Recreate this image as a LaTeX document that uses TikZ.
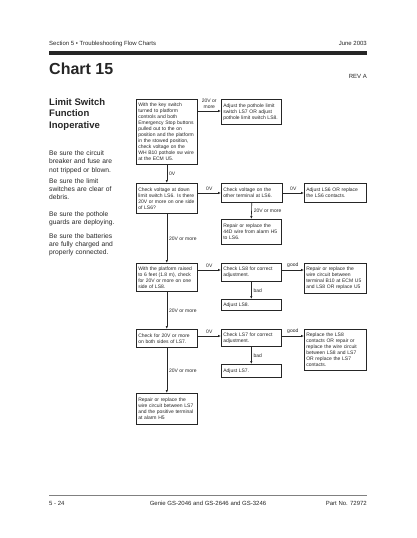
\documentclass[tikz,border=0pt]{standalone}
\usepackage{fontspec}
\setmainfont{Liberation Sans}
\usetikzlibrary{arrows.meta}
\definecolor{ink}{gray}{0.15}
\tikzset{
  fbox/.style={draw=ink, line width=0.6pt, fill=white, align=left, anchor=north west,
    font=\fontsize{5}{6}\selectfont, text=ink, inner xsep=2pt, inner ysep=2pt},
  arr/.style={draw=ink, line width=0.6pt, -{Latex[length=3pt,width=2.4pt]}},
  lbl/.style={font=\fontsize{5}{6}\selectfont, text=ink, inner sep=1pt},
  side/.style={anchor=north west, inner sep=0pt, align=left, text width=70pt,
    font=\fontsize{6.7}{8.4}\selectfont, text=ink},
}
\begin{document}
\begin{tikzpicture}[x=1pt, y=-1pt]
\useasboundingbox[fill=white] (0,0) rectangle (416,538);

% header
\node[anchor=base west, inner sep=0pt, font=\fontsize{6}{7}\selectfont, text=ink] (hdl) at (49,45) {Section 5 • Troubleshooting Flow Charts};
\node[anchor=base east, inner sep=0pt, font=\fontsize{6}{7}\selectfont, text=ink] (hdr) at (367,45) {June 2003};
\fill[ink] (49,51) rectangle (367,55);
\node[anchor=base west, inner sep=0pt, font=\fontsize{16}{18}\bfseries\selectfont, text=ink] (chart) at (49,74.5) {Chart 15};
\node[anchor=base east, inner sep=0pt, font=\fontsize{6}{7}\selectfont, text=ink] (rev) at (367,78.5) {REV A};

% left column
\node[anchor=north west, inner sep=0pt, align=left, font=\fontsize{9.5}{11.6}\bfseries\selectfont, text=ink] (title) at (49,98) {Limit Switch\\Function\\Inoperative};
\node[side] (p1) at (49,150.5) {Be sure the circuit\\breaker and fuse are\\not tripped or blown.};
\node[side] (p2) at (49,178) {Be sure the limit\\switches are clear of\\debris.};
\node[side] (p3) at (49,211) {Be sure the pothole\\guards are deploying.};
\node[side] (p4) at (49,233) {Be sure the batteries\\are fully charged and\\properly connected.};

% boxes
\node[fbox, text width=57pt, minimum height=65pt] (A) at (136,99) {With the key switch\\turned to platform\\controls and both\\Emergency Stop buttons\\pulled out to the on\\position and the platform\\in the stowed position,\\check voltage on the\\WH B10 pothole sw wire\\at the ECM U5.};
\node[fbox, text width=56pt, minimum height=25pt] (AR) at (221,99) {Adjust the pothole limit\\switch LS7 OR adjust\\pothole limit switch LS8.};
\node[fbox, text width=57pt, minimum height=30pt] (B) at (136,183) {Check voltage at down\\limit switch LS6. Is there\\20V or more on one side\\of LS6?};
\node[fbox, text width=57pt, minimum height=19pt] (C) at (221,183) {Check voltage on the\\other terminal at LS6.};
\node[fbox, text width=58pt, minimum height=19pt] (D) at (304,183) {Adjust LS6 OR replace\\the LS6 contacts.};
\node[fbox, text width=56pt, minimum height=25pt] (E) at (221,219) {Repair or replace the\\44D wire from alarm H5\\to LS6.};
\node[fbox, text width=57pt, minimum height=28pt] (F) at (136,263) {With the platform raised\\to 6 feet (1.8 m), check\\for 20V or more on one\\side of LS8.};
\node[fbox, text width=56pt, minimum height=18pt] (G) at (221,263) {Check LS8 for correct\\adjustment.};
\node[fbox, text width=58pt, minimum height=30pt] (H) at (304,263) {Repair or replace the\\wire circuit between\\terminal B10 at ECM U5\\and LS8 OR replace U5};
\node[fbox, text width=56pt, minimum height=11pt] (I) at (221,299) {Adjust LS8.};
\node[fbox, text width=57pt, minimum height=18pt] (J) at (136,329) {Check for 20V or more\\on both sides of LS7.};
\node[fbox, text width=56pt, minimum height=17pt] (K) at (221,329) {Check LS7 for correct\\adjustment.};
\node[fbox, text width=58pt, minimum height=41pt] (L) at (304,329) {Replace the LS8\\contacts OR repair or\\replace the wire circuit\\between LS8 and LS7\\OR replace the LS7\\contacts.};
\node[fbox, text width=56pt, minimum height=13pt] (M) at (221,364) {Adjust LS7.};
\node[fbox, text width=57pt, minimum height=31pt] (N) at (136,393) {Repair or replace the\\wire circuit between LS7\\and the positive terminal\\at alarm H5};

% connectors
\draw[arr] ([yshift=-12pt]A.north east) -- node[lbl, above, align=center, yshift=1pt]{20V or\\more} ([yshift=-12pt]AR.north west);
\draw[arr] (A.south) -- node[lbl, right, xshift=1pt]{0V} (B.north);
\draw[arr] ([yshift=-10pt]B.north east) -- node[lbl, above, yshift=1pt]{0V} ([yshift=-10pt]C.north west);
\draw[arr] ([yshift=-10pt]C.north east) -- node[lbl, above, yshift=1pt]{0V} ([yshift=-10pt]D.north west);
\draw[arr] (C.south) -- node[lbl, right, xshift=1pt]{20V or more} (E.north);
\draw[arr] (B.south) -- node[lbl, right, xshift=1pt]{20V or more} (F.north);
\draw[arr] ([yshift=-7pt]F.north east) -- node[lbl, above, yshift=1pt]{0V} ([yshift=-7pt]G.north west);
\draw[arr] ([yshift=-7pt]G.north east) -- node[lbl, above, yshift=1pt]{good} ([yshift=-7pt]H.north west);
\draw[arr] (G.south) -- node[lbl, right, xshift=1pt]{bad} (I.north);
\draw[arr] (F.south) -- node[lbl, right, xshift=1pt]{20V or more} (J.north);
\draw[arr] ([yshift=-7pt]J.north east) -- node[lbl, above, yshift=1pt]{0V} ([yshift=-7pt]K.north west);
\draw[arr] ([yshift=-7pt]K.north east) -- node[lbl, above, yshift=1pt]{good} ([yshift=-7pt]L.north west);
\draw[arr] (K.south) -- node[lbl, right, xshift=1pt]{bad} (M.north);
\draw[arr] (J.south) -- node[lbl, right, xshift=1pt]{20V or more} (N.north);

% footer
\draw[gray, line width=0.4pt] (49,495) -- (367,495);
\node[anchor=base west, inner sep=0pt, font=\fontsize{6}{7}\selectfont, text=ink] (fl) at (49,505) {5 - 24};
\node[anchor=base, inner sep=0pt, font=\fontsize{6}{7}\selectfont, text=ink] (fc) at (208,505) {Genie GS-2046 and GS-2646 and GS-3246};
\node[anchor=base east, inner sep=0pt, font=\fontsize{6}{7}\selectfont, text=ink] (fr) at (367,505) {Part No. 72972};
\end{tikzpicture}
\end{document}
